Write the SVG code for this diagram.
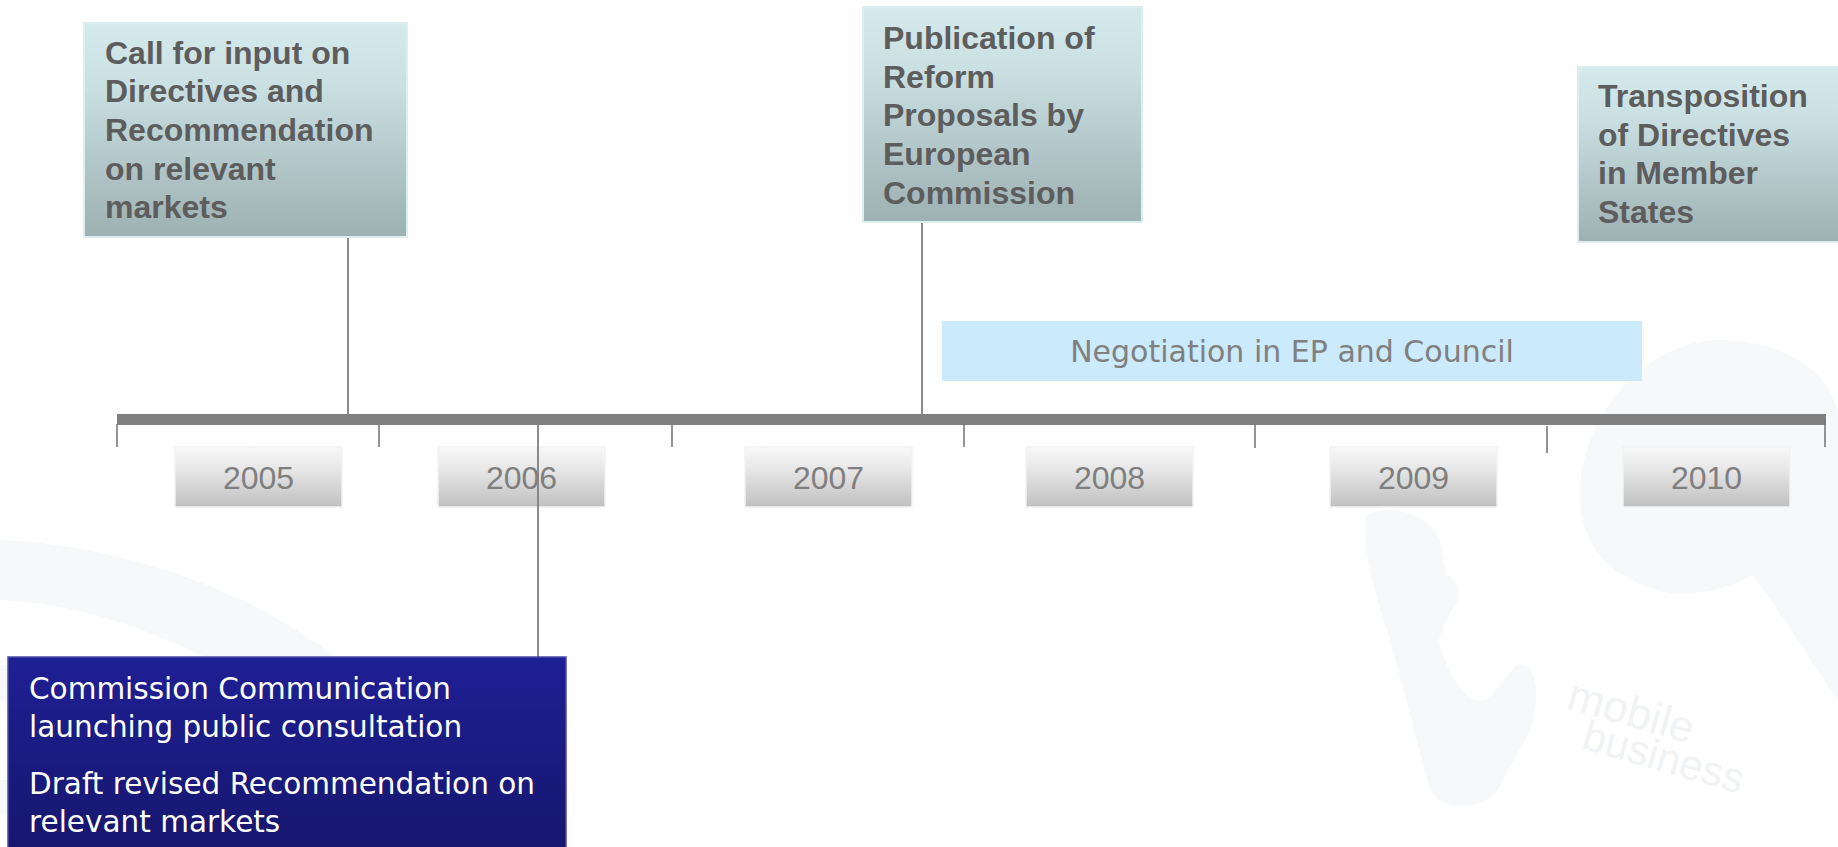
<svg xmlns="http://www.w3.org/2000/svg" width="1838" height="847" viewBox="0 0 1838 847">
  <defs>
    <linearGradient id="cyanGrad" x1="0" y1="0" x2="0" y2="1">
      <stop offset="0" stop-color="#d4eaed"/>
      <stop offset="0.3" stop-color="#c9dfe2"/>
      <stop offset="1" stop-color="#9db0b2"/>
    </linearGradient>
    <linearGradient id="yearGrad" x1="0" y1="0" x2="0" y2="1">
      <stop offset="0" stop-color="#f8f8f8"/>
      <stop offset="0.35" stop-color="#e8e8e8"/>
      <stop offset="1" stop-color="#c0c0c0"/>
    </linearGradient>
    <linearGradient id="blueGrad" x1="0" y1="0" x2="0" y2="1">
      <stop offset="0" stop-color="#1f1f95"/>
      <stop offset="1" stop-color="#16166c"/>
    </linearGradient>
    <style>
      .event { fill: url(#cyanGrad); stroke: #dceef0; stroke-width: 2; }
      .evtxt { font-family: "Liberation Sans", Arial, sans-serif; font-weight: bold; font-size: 32px; fill: #5d5d5d; }
      .year { fill: url(#yearGrad); stroke: #f2f2f2; stroke-width: 1.5; }
      .yrtxt { font-family: "Liberation Sans", Arial, sans-serif; font-size: 32px; fill: #7f7f7f; text-anchor: middle; }
      .tick { stroke: #7a7a7a; stroke-width: 1.6; }
      .conn { stroke: #7f7f7f; stroke-width: 1.8; fill: none; }
      .wm { fill: #f7f8fa; }
      .wmtxt { font-family: "Liberation Sans", Arial, sans-serif; fill: #f0f2f4; }
      .bluetxt { font-family: "DejaVu Sans", Verdana, sans-serif; font-size: 29.5px; fill: #ffffff; }
    </style>
  </defs>

  <rect x="0" y="0" width="1838" height="847" fill="#ffffff"/>

  <!-- faint background watermark -->
  <g id="background">
    <path class="wm" d="M0,540 C120,545 250,590 335,657 L205,657 C140,625 70,603 0,600 Z"/>
    <rect class="wm" x="0" y="665" width="8" height="36"/>
    <rect class="wm" x="0" y="780" width="8" height="34"/>
    <path class="wm" d="M1366,515 C1385,505 1428,510 1440,540 L1446,575 C1462,582 1462,602 1450,612 L1438,642 C1454,688 1474,716 1494,692 L1516,665 C1540,660 1540,702 1530,730 L1498,790 C1480,812 1444,812 1430,790 L1390,640 C1378,600 1362,560 1366,515 Z"/>
    <path class="wm" d="M1580,500 C1578,420 1640,345 1715,340 C1790,338 1838,380 1838,420 L1838,700 C1810,660 1780,610 1752,575 C1730,590 1690,596 1665,592 C1615,580 1582,550 1580,500 Z"/>
    <text class="wmtxt" font-size="44" transform="translate(1565,708) rotate(16)">mobile</text>
    <text class="wmtxt" font-size="42" transform="translate(1580,748) rotate(16)">business</text>
  </g>

  <!-- timeline axis -->
  <g id="timeline">
    <rect x="117" y="414" width="1709" height="11" fill="#808080"/>
    <line class="tick" x1="117" y1="424" x2="117" y2="447"/>
    <line class="tick" x1="379" y1="424" x2="379" y2="447"/>
    <line class="tick" x1="672" y1="424" x2="672" y2="447"/>
    <line class="tick" x1="964" y1="424" x2="964" y2="447"/>
    <line class="tick" x1="1255" y1="424" x2="1255" y2="448"/>
    <line class="tick" x1="1547" y1="426" x2="1547" y2="453"/>
    <line class="tick" x1="1825" y1="418" x2="1825" y2="447"/>
  </g>

  <!-- year labels -->
  <g id="year-2005">
    <rect class="year" x="175" y="447" width="167" height="60"/>
    <text class="yrtxt" x="258.5" y="489">2005</text>
  </g>
  <g id="year-2006">
    <rect class="year" x="438" y="447" width="167" height="60"/>
    <text class="yrtxt" x="521.5" y="489">2006</text>
  </g>
  <g id="year-2007">
    <rect class="year" x="745" y="447" width="167" height="60"/>
    <text class="yrtxt" x="828.5" y="489">2007</text>
  </g>
  <g id="year-2008">
    <rect class="year" x="1026" y="447" width="167" height="60"/>
    <text class="yrtxt" x="1109.5" y="489">2008</text>
  </g>
  <g id="year-2009">
    <rect class="year" x="1330" y="447" width="167" height="60"/>
    <text class="yrtxt" x="1413.5" y="489">2009</text>
  </g>
  <g id="year-2010">
    <rect class="year" x="1623" y="447" width="167" height="60"/>
    <text class="yrtxt" x="1706.5" y="489">2010</text>
  </g>

  <!-- connectors -->
  <g id="connectors">
    <line class="conn" x1="348" y1="237" x2="348" y2="414"/>
    <line class="conn" x1="922" y1="222" x2="922" y2="414"/>
    <line class="conn" x1="538" y1="425" x2="538" y2="658"/>
  </g>

  <!-- events -->
  <g id="call-for-input">
    <rect class="event" x="84" y="23" width="323" height="214"/>
    <text class="evtxt">
      <tspan x="105" y="64">Call for input on</tspan>
      <tspan x="105" y="102">Directives and</tspan>
      <tspan x="105" y="141">Recommendation</tspan>
      <tspan x="105" y="180">on relevant</tspan>
      <tspan x="105" y="218">markets</tspan>
    </text>
  </g>

  <g id="publication">
    <rect class="event" x="863" y="7" width="279" height="215"/>
    <text class="evtxt">
      <tspan x="883" y="49">Publication of</tspan>
      <tspan x="883" y="88">Reform</tspan>
      <tspan x="883" y="126">Proposals by</tspan>
      <tspan x="883" y="165">European</tspan>
      <tspan x="883" y="204">Commission</tspan>
    </text>
  </g>

  <g id="transposition">
    <rect class="event" x="1578" y="67" width="275" height="175"/>
    <text class="evtxt">
      <tspan x="1598" y="107">Transposition</tspan>
      <tspan x="1598" y="146">of Directives</tspan>
      <tspan x="1598" y="184">in Member</tspan>
      <tspan x="1598" y="223">States</tspan>
    </text>
  </g>

  <g id="negotiation">
    <rect x="942" y="321" width="700" height="60" fill="#cbeafc"/>
    <text x="1292" y="362" text-anchor="middle" font-family="DejaVu Sans, Verdana, sans-serif" font-size="30" fill="#808080">Negotiation in EP and Council</text>
  </g>

  <g id="commission-communication">
    <rect x="8" y="657" width="558" height="200" fill="url(#blueGrad)" stroke="#4b4ba6" stroke-width="1.5"/>
    <text class="bluetxt">
      <tspan x="29" y="699">Commission Communication</tspan>
      <tspan x="29" y="737">launching public consultation</tspan>
      <tspan x="29" y="794">Draft revised Recommendation on</tspan>
      <tspan x="29" y="832">relevant markets</tspan>
    </text>
  </g>
</svg>
